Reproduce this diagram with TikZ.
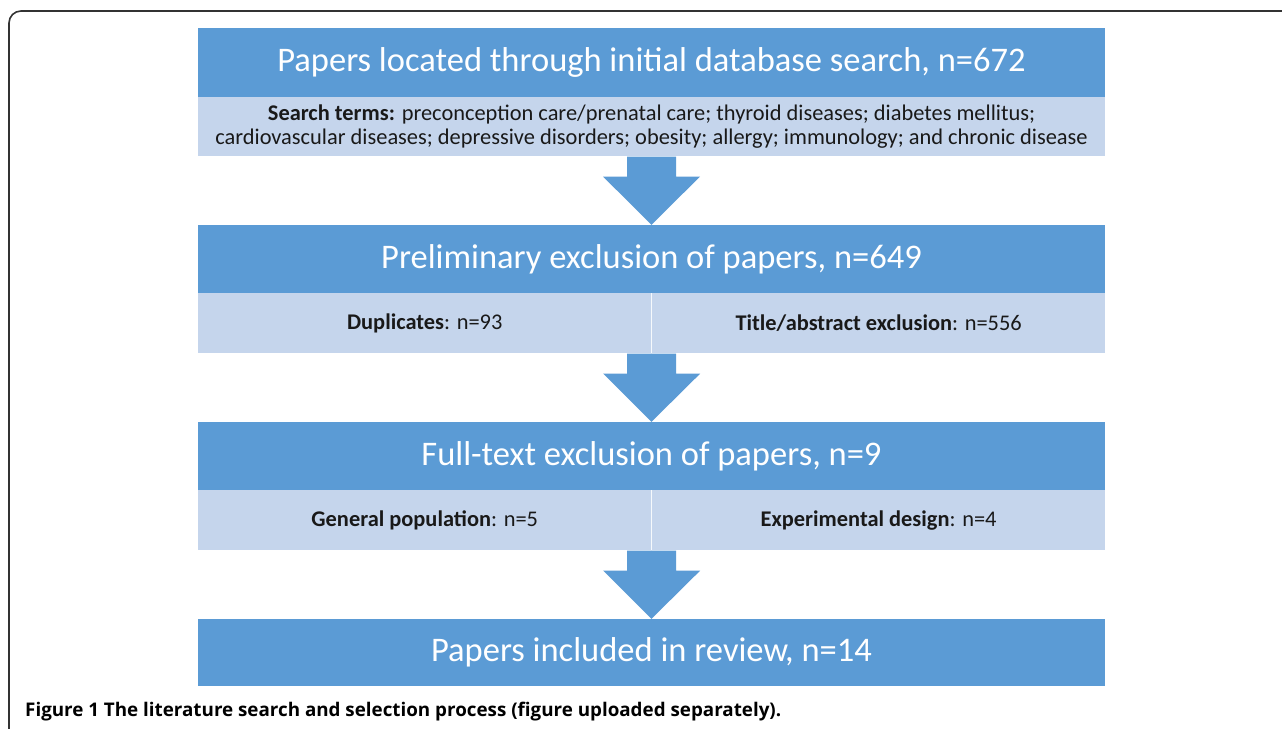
\documentclass[tikz,border=0pt]{standalone}
\usepackage{fontspec}
\setmainfont{Carlito}
\newfontfamily\capfont{Open Sans}
\usetikzlibrary{positioning,calc}

\definecolor{darkblue}{HTML}{5B9BD5}
\definecolor{lightblue}{HTML}{C5D5EC}

\tikzset{
  headbox/.style={fill=darkblue, text=white, minimum width=907, inner sep=0pt, font=\fontsize{34.5}{38}\selectfont},
  subbox/.style={fill=lightblue, text=black!90, minimum height=60, inner sep=0pt, font=\fontsize{22.4}{25}\selectfont},
  blockarrow/.style={fill=darkblue}
}

\newcommand{\downblock}[2]{%
  \fill[blockarrow] ($(#1.south)+(-24.5,0)$) -- ($(#1.south)+(24.5,0)$) -- ($(#1.south)+(24.5,-20)$)
    -- ($(#1.south)+(48.5,-20)$) -- (#2.north) -- ($(#1.south)+(-48.5,-20)$) -- ($(#1.south)+(-24.5,-20)$) -- cycle;}

\begin{document}
\begin{tikzpicture}[x=1pt,y=1pt]
    \clip (0,0) rectangle (1282,728);
    \fill[white] (0,0) rectangle (1282,728);

    \draw[line width=1.6, black!80] (1300,717) -- (21,717) arc[start angle=90, end angle=180, radius=12] -- (9,-20);

    \node[headbox, minimum height=69] (search) at (651.5,665.5) {Papers located through initial database search, n=672};
    \node[subbox, minimum width=907, minimum height=59, below=0pt of search, align=center] (terms)
      {\textbf{Search terms:} preconception care/prenatal care; thyroid diseases; diabetes mellitus;\\[-1pt]
       cardiovascular diseases; depressive disorders; obesity; allergy; immunology; and chronic disease};

    \node[headbox, minimum height=68] (prelim) at (651.5,469) {Preliminary exclusion of papers, n=649};
    \node[subbox, minimum width=453.5, anchor=north west] (dupl) at (prelim.south west) {\textbf{Duplicates}: n=93};
    \node[subbox, minimum width=453.5, right=0pt of dupl] (title) {\textbf{Title/abstract exclusion}: n=556};

    \node[headbox, minimum height=68] (fulltext) at (651.5,272) {Full-text exclusion of papers, n=9};
    \node[subbox, minimum width=453.5, anchor=north west] (general) at (fulltext.south west) {\textbf{General population}: n=5};
    \node[subbox, minimum width=453.5, right=0pt of general] (design) {\textbf{Experimental design}: n=4};

    \node[headbox, minimum height=67] (included) at (651.5,75.5) {Papers included in review, n=14};

    \draw[white!85!lightblue, line width=0.8] (dupl.north east) -- (dupl.south east);
    \draw[white!85!lightblue, line width=0.8] (general.north east) -- (general.south east);

    \downblock{terms}{prelim}
    \coordinate (midtwo) at (dupl.south east);
    \downblock{midtwo}{fulltext}
    \coordinate (midthree) at (general.south east);
    \downblock{midthree}{included}

    \node[anchor=base west, inner sep=0pt, font=\capfont\bfseries\fontsize{18.8}{22}\selectfont] (caption) at (25,11)
      {Figure 1 The literature search and selection process (figure uploaded separately).};
\end{tikzpicture}
\end{document}
